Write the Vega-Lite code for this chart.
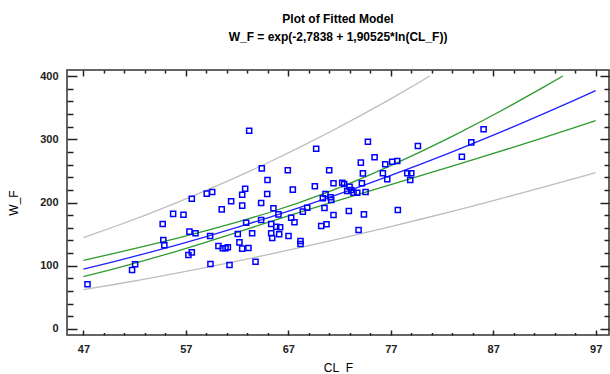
{
  "$schema": "https://vega.github.io/schema/vega-lite/v6.json",
  "width": 542,
  "height": 265,
  "autosize": {"type": "none"},
  "padding": {"left": 67, "top": 70, "right": 1, "bottom": 39},
  "background": "white",
  "title": {
    "text": "Plot of Fitted Model",
    "subtitle": "W_F = exp(-2,7838 + 1,90525*ln(CL_F))",
    "font": "Liberation Sans", "fontSize": 12, "fontWeight": "bold", "color": "#000",
    "subtitleFont": "Liberation Sans", "subtitleFontSize": 12, "subtitleFontWeight": "bold", "subtitleColor": "#000",
    "anchor": "middle", "offset": 25, "subtitlePadding": 6
  },
  "config": {
    "view": {"stroke": "#333", "strokeWidth": 1.5},
    "axis": {"domain": false, "grid": false, "tickColor": "#222", "tickWidth": 1.5}
  },
  "datasets": {
    "pts": [
      {"x": 47.4, "y": 70.7}, {"x": 51.75, "y": 93.3}, {"x": 52.05, "y": 102.3}, {"x": 54.74, "y": 166},
      {"x": 55.76, "y": 182}, {"x": 54.8, "y": 140.7}, {"x": 54.9, "y": 132.3}, {"x": 63.18, "y": 313.5},
      {"x": 57.58, "y": 206}, {"x": 59.04, "y": 214}, {"x": 59.57, "y": 216.6}, {"x": 62.79, "y": 221.8},
      {"x": 62.5, "y": 212.3}, {"x": 61.42, "y": 201.9}, {"x": 62.5, "y": 195}, {"x": 60.5, "y": 189.2},
      {"x": 56.77, "y": 180.7}, {"x": 62.89, "y": 168}, {"x": 63.47, "y": 151.3}, {"x": 57.35, "y": 153.9},
      {"x": 57.94, "y": 151.3}, {"x": 59.37, "y": 147}, {"x": 62.07, "y": 150.2}, {"x": 62.23, "y": 137},
      {"x": 60.18, "y": 131.2}, {"x": 60.6, "y": 127.6}, {"x": 61.1, "y": 129.2}, {"x": 60.87, "y": 127.6},
      {"x": 62.5, "y": 127}, {"x": 63.11, "y": 128}, {"x": 57.58, "y": 121.2}, {"x": 57.25, "y": 117},
      {"x": 59.4, "y": 102.8}, {"x": 61.26, "y": 101.2}, {"x": 63.8, "y": 106.4}, {"x": 69.72, "y": 285},
      {"x": 64.41, "y": 254}, {"x": 66.95, "y": 251}, {"x": 70.99, "y": 251}, {"x": 64.97, "y": 235.6},
      {"x": 67.44, "y": 220.3}, {"x": 69.59, "y": 225.6}, {"x": 71.41, "y": 230.4}, {"x": 64.94, "y": 213.4},
      {"x": 64.35, "y": 199.2}, {"x": 65.55, "y": 190.8}, {"x": 70.63, "y": 213.4}, {"x": 70.37, "y": 206.6},
      {"x": 71.12, "y": 208.2}, {"x": 70.53, "y": 191.3}, {"x": 71.41, "y": 180.2}, {"x": 68.85, "y": 191.8},
      {"x": 68.42, "y": 185.5}, {"x": 66.04, "y": 181.3}, {"x": 67.28, "y": 176}, {"x": 67.6, "y": 168.7},
      {"x": 65.33, "y": 166}, {"x": 65.82, "y": 161.7}, {"x": 66.2, "y": 160.8}, {"x": 65.33, "y": 151.3},
      {"x": 66.11, "y": 149.7}, {"x": 65.43, "y": 143.9}, {"x": 67.02, "y": 147}, {"x": 68.19, "y": 139.1},
      {"x": 68.19, "y": 134.4}, {"x": 70.21, "y": 162.8}, {"x": 70.73, "y": 165.5}, {"x": 64.35, "y": 172.3},
      {"x": 74.77, "y": 296}, {"x": 75.42, "y": 271.5}, {"x": 74.08, "y": 263}, {"x": 76.46, "y": 260.4},
      {"x": 77.14, "y": 264.5}, {"x": 77.63, "y": 265.6}, {"x": 76.23, "y": 246.2}, {"x": 74.28, "y": 246},
      {"x": 72.26, "y": 231.3}, {"x": 72.45, "y": 229.2}, {"x": 74.18, "y": 230.4}, {"x": 76.66, "y": 236.7},
      {"x": 78.61, "y": 246.2}, {"x": 72.98, "y": 225}, {"x": 73.14, "y": 219.8}, {"x": 73.37, "y": 215.5},
      {"x": 73.73, "y": 215.5}, {"x": 74.54, "y": 216.6}, {"x": 72.75, "y": 218.2}, {"x": 71.19, "y": 204},
      {"x": 77.69, "y": 188.1}, {"x": 72.91, "y": 186.6}, {"x": 74.38, "y": 181.3}, {"x": 73.86, "y": 156.5},
      {"x": 86.06, "y": 315.7}, {"x": 79.65, "y": 289.3}, {"x": 84.86, "y": 295}, {"x": 83.94, "y": 272.4},
      {"x": 79.0, "y": 246.2}, {"x": 78.9, "y": 235.6}
    ],
    "fit": [
      {"x": 47, "y": 94.79}, {"x": 50, "y": 106.65}, {"x": 53, "y": 119.18}, {"x": 56, "y": 132.35},
      {"x": 59, "y": 146.19}, {"x": 62, "y": 160.68}, {"x": 65, "y": 175.82}, {"x": 68, "y": 191.6},
      {"x": 71, "y": 208.03}, {"x": 74, "y": 225.1}, {"x": 77, "y": 242.8}, {"x": 80, "y": 261.15},
      {"x": 83, "y": 280.11}, {"x": 86, "y": 299.72}, {"x": 89, "y": 319.96}, {"x": 92, "y": 340.82},
      {"x": 95, "y": 362.31}, {"x": 97, "y": 376.98}
    ],
    "confUpper": [
      {"x": 47, "y": 108.49}, {"x": 50, "y": 119.55}, {"x": 53, "y": 131.05}, {"x": 56, "y": 143.03},
      {"x": 59, "y": 155.61}, {"x": 62, "y": 168.94}, {"x": 65, "y": 183.4}, {"x": 68, "y": 199.44},
      {"x": 71, "y": 217.36}, {"x": 74, "y": 237.05}, {"x": 77, "y": 258.25}, {"x": 80, "y": 280.82},
      {"x": 83, "y": 304.61}, {"x": 86, "y": 329.65}, {"x": 89, "y": 355.88}, {"x": 92, "y": 383.28},
      {"x": 93.8, "y": 400}
    ],
    "confLower": [
      {"x": 47, "y": 82.82}, {"x": 50, "y": 95.14}, {"x": 53, "y": 108.38}, {"x": 56, "y": 122.47},
      {"x": 59, "y": 137.34}, {"x": 62, "y": 152.82}, {"x": 65, "y": 168.56}, {"x": 68, "y": 184.07},
      {"x": 71, "y": 199.1}, {"x": 74, "y": 213.75}, {"x": 77, "y": 228.27}, {"x": 80, "y": 242.86},
      {"x": 83, "y": 257.58}, {"x": 86, "y": 272.51}, {"x": 89, "y": 287.67}, {"x": 92, "y": 303.06},
      {"x": 95, "y": 318.71}, {"x": 97, "y": 329.27}
    ],
    "pred": [
      {"band": "upper", "x": 47, "y": 144.58}, {"band": "upper", "x": 50, "y": 161.67}, {"band": "upper", "x": 53, "y": 179.79},
      {"band": "upper", "x": 56, "y": 198.93}, {"band": "upper", "x": 59, "y": 219.15}, {"band": "upper", "x": 62, "y": 240.46},
      {"band": "upper", "x": 65, "y": 262.88}, {"band": "upper", "x": 68, "y": 286.41}, {"band": "upper", "x": 71, "y": 311.1},
      {"band": "upper", "x": 74, "y": 336.93}, {"band": "upper", "x": 77, "y": 363.94}, {"band": "upper", "x": 80, "y": 392.15},
      {"band": "upper", "x": 80.8, "y": 400},
      {"band": "lower", "x": 47, "y": 62.15}, {"band": "lower", "x": 50, "y": 70.36}, {"band": "lower", "x": 53, "y": 79.0},
      {"band": "lower", "x": 56, "y": 88.06}, {"band": "lower", "x": 59, "y": 97.52}, {"band": "lower", "x": 62, "y": 107.37},
      {"band": "lower", "x": 65, "y": 117.59}, {"band": "lower", "x": 68, "y": 128.17}, {"band": "lower", "x": 71, "y": 139.11},
      {"band": "lower", "x": 74, "y": 150.39}, {"band": "lower", "x": 77, "y": 161.98}, {"band": "lower", "x": 80, "y": 173.91},
      {"band": "lower", "x": 83, "y": 186.13}, {"band": "lower", "x": 86, "y": 198.67}, {"band": "lower", "x": 89, "y": 211.51},
      {"band": "lower", "x": 92, "y": 224.63}, {"band": "lower", "x": 95, "y": 238.03}, {"band": "lower", "x": 97, "y": 247.13}
    ]
  },
  "resolve": {"axis": {"x": "independent", "y": "independent"}},
  "layer": [
    {
      "data": {"name": "pred"},
      "mark": {"type": "line", "color": "#bdbdbd", "strokeWidth": 1.3},
      "encoding": {
        "detail": {"field": "band", "type": "nominal"},
        "x": {"field": "x", "type": "quantitative", "scale": {"domain": [45.4, 98.3], "nice": false, "zero": false},
          "axis": {"orient": "top", "values": [49,51,53,55,59,61,63,65,69,71,73,75,79,81,83,85,89,91,93,95], "tickSize": -3, "labels": false, "title": null}},
        "y": {"field": "y", "type": "quantitative", "scale": {"domain": [-9.5, 409.5], "nice": false, "zero": false},
          "axis": {"orient": "right", "values": [20,40,60,80,120,140,160,180,220,240,260,280,320,340,360,380], "tickSize": -5, "labels": false, "title": null}}
      }
    },
    {
      "data": {"name": "confUpper"},
      "mark": {"type": "line", "color": "#2e9a2e", "strokeWidth": 1.3},
      "encoding": {
        "x": {"field": "x", "type": "quantitative",
          "axis": {"orient": "bottom", "values": [49,51,53,55,59,61,63,65,69,71,73,75,79,81,83,85,89,91,93,95], "tickSize": -2.5, "labels": false, "title": null}},
        "y": {"field": "y", "type": "quantitative",
          "axis": {"orient": "left", "values": [20,40,60,80,120,140,160,180,220,240,260,280,320,340,360,380], "tickSize": -6, "labels": false, "title": null}}
      }
    },
    {
      "data": {"name": "confLower"},
      "mark": {"type": "line", "color": "#2e9a2e", "strokeWidth": 1.3},
      "encoding": {
        "x": {"field": "x", "type": "quantitative",
          "axis": {"orient": "top", "values": [47,57,67,77,87,97], "tickSize": -6, "labels": false, "title": null}},
        "y": {"field": "y", "type": "quantitative",
          "axis": {"orient": "right", "values": [0,100,200,300,400], "tickSize": -9, "labels": false, "title": null}}
      }
    },
    {
      "data": {"name": "fit"},
      "mark": {"type": "line", "color": "#2020ff", "strokeWidth": 1.3},
      "encoding": {
        "x": {"field": "x", "type": "quantitative",
          "axis": {"orient": "bottom", "values": [47,57,67,77,87,97], "tickSize": -5, "labels": false, "title": null}},
        "y": {"field": "y", "type": "quantitative",
          "axis": {"orient": "left", "values": [0,100,200,300,400], "tickSize": -10, "labels": false, "title": null}}
      }
    },
    {
      "data": {"name": "pts"},
      "mark": {"type": "point", "shape": "square", "filled": false, "size": 26, "strokeWidth": 1.5, "color": "#0000ff", "opacity": 1},
      "encoding": {
        "x": {"field": "x", "type": "quantitative",
          "axis": {"orient": "bottom", "values": [47,57,67,77,87,97], "ticks": false, "labelPadding": 8,
            "labelFont": "Liberation Sans", "labelFontSize": 11, "labelFontWeight": "bold", "labelColor": "#222",
            "title": "CL_F", "titleFont": "Liberation Sans", "titleFontSize": 12, "titleFontWeight": "normal", "titleColor": "#000", "titlePadding": 8}},
        "y": {"field": "y", "type": "quantitative",
          "axis": {"orient": "left", "values": [0,100,200,300,400], "ticks": false, "labelPadding": 9,
            "labelFont": "Liberation Sans", "labelFontSize": 11, "labelFontWeight": "bold", "labelColor": "#222",
            "title": "W_F", "titleFont": "Liberation Sans", "titleFontSize": 12, "titleFontWeight": "normal", "titleColor": "#000", "titlePadding": 19}}
      }
    }
  ]
}
